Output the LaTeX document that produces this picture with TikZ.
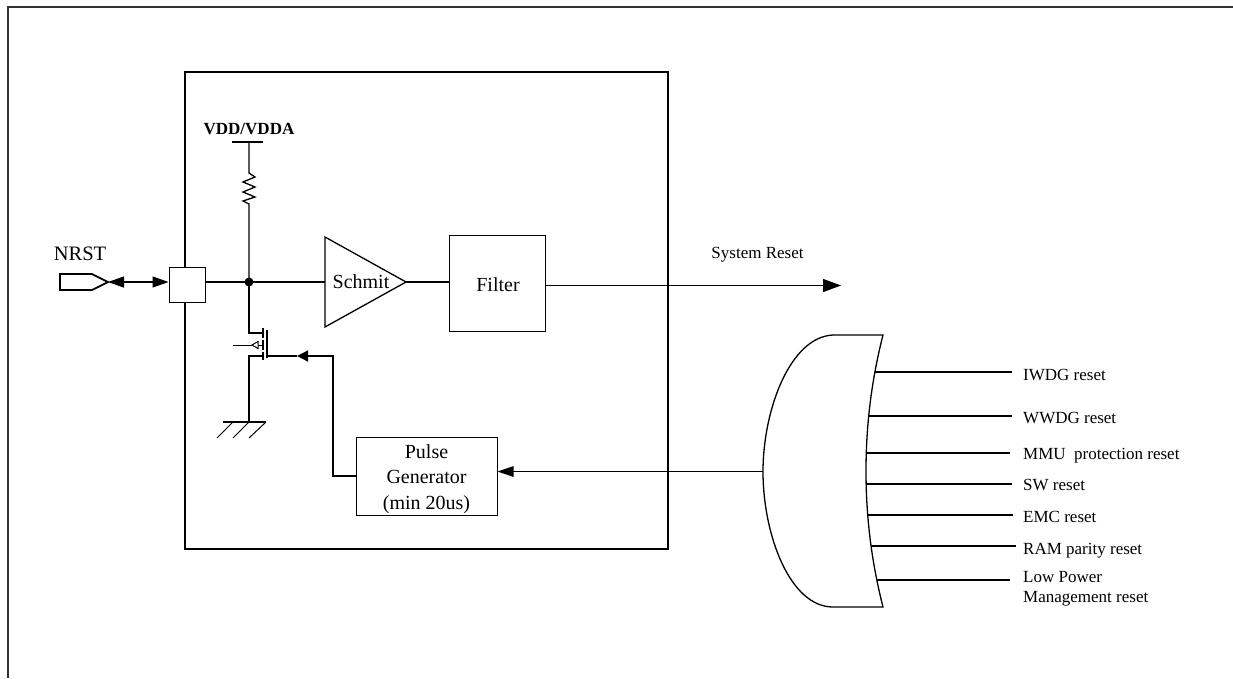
\documentclass[tikz,border=0pt]{standalone}
\usepackage{fontspec}
\setmainfont{Liberation Serif}
\usetikzlibrary{arrows.meta}
\tikzset{
  wire/.style={line width=1.3pt,black},
  big arrow/.style={-{Triangle[length=18pt,width=13pt]}},
  mid arrow/.style={-{Triangle[length=16pt,width=10.5pt]}},
  small arrow/.style={-{Triangle[length=11pt,width=11pt]}},
  box/.style={draw,line width=1pt,fill=white,inner sep=0pt,align=center,font=\fontsize{20}{25.5}\selectfont},
  lab/.style={anchor=base west,inner sep=0pt,font=\fontsize{17}{20}\selectfont},
  pt/.style={inner sep=0pt,minimum size=0pt,outer sep=0pt},
}
\begin{document}
\begin{tikzpicture}[x=1pt,y=-1pt]
\useasboundingbox (0,0) rectangle (1233,678);
\fill[white] (0,0) rectangle (1233,678);
% page frame
\draw[line width=1.2pt,black!80] (8,678) -- (8,7) -- (1233,7);
% main block
\node[draw,line width=2.2pt,minimum width=483pt,minimum height=477pt,inner sep=0pt] (chip) at (426.5,310.5) {};
% coordinates
\coordinate (pintip) at (108,282);
\coordinate (j) at (249,282);
\coordinate (vbar) at (249,142);
\coordinate (rtop) at (249,173);
\coordinate (rbot) at (249,204);
\coordinate (drain) at (249,333);
\coordinate (source) at (249,356);
\coordinate (gnd) at (249,422);
\coordinate (gate) at (267,356);
\coordinate (gbend) at (333,356);
\coordinate (pbend) at (333,476);
\coordinate (orin) at (763,471.5);
\coordinate (sysend) at (841,285.5);
% NRST pin
\draw[line width=1.8pt,fill=white] (60,274) -- (92,274) -- (pintip) -- (92,290) -- (60,290) -- cycle;
\node[pt,font=\fontsize{20.5}{24}\selectfont] (nrst) at (80,254) {NRST};
% pad
\node[box,minimum width=36pt,minimum height=35pt] (pad) at (187,284.5) {};
\draw[wire,{Triangle[length=16pt,width=11pt]}-{Triangle[length=16pt,width=11pt]}] (pintip) -- (pad.west |- pintip);
% boxes
\node[box,minimum width=96pt,minimum height=96pt] (filter) at (497,283) {\rule{0pt}{18pt}\hspace*{2pt}Filter};
\node[box,minimum width=141pt,minimum height=78pt] (pulse) at (426.5,476) {\rule{0pt}{20pt}Pulse\\Generator\\(min 20us)};
% Schmit
\draw[wire,fill=white] (325,237) -- (406,282) -- (325,327) -- cycle;
\node[pt,font=\fontsize{20}{24}\selectfont] (schmit) at (361,282) {Schmit};
\coordinate (sin) at (325,282);
\coordinate (sout) at (406,282);
% wires
\draw[wire] (pad.east |- j) -- (j) -- (sin);
\draw[wire] (sout) -- (filter.west |- sout);
\draw[wire,big arrow] (filter.east |- sysend) -- (sysend);
\node[pt,font=\fontsize{17}{20}\selectfont] (sysres) at (757.5,255) {System Reset};
% supply + resistor
\node[pt,font=\bfseries\fontsize{17}{20}\selectfont] (vdd) at (249,129) {VDD/VDDA};
\draw[wire] (232,142) -- (263,142);
\draw[wire] (vbar) -- (rtop) -- (255,177) -- (243,182) -- (255,187) -- (243,192) -- (255,197) -- (243,201) -- (rbot) -- (j);
\fill (j) circle (4.5pt);
% MOSFET
\draw[wire] (j) -- (drain) -- (263,333);
\draw[wire] (263,328) -- (263,338);
\draw[wire] (263,340) -- (263,350);
\draw[wire] (263,352) -- (263,360);
\draw[line width=1.6pt] (267,330) -- (267,358);
\draw[line width=1pt] (233,345) -- (252,345);
\draw[line width=1pt,fill=white] (252,345) -- (258,341.5) -- (258,348.5) -- cycle;
\draw[line width=1pt] (258,345) -- (263,345);
\draw[wire] (gnd) -- (source) -- (263,356);
% ground
\draw[wire] (223,422) -- (266,422);
\draw[line width=1pt] (266,422) -- (249,438);
\draw[line width=1pt] (249,422) -- (233,438);
\draw[line width=1pt] (233,422) -- (217,438);
% gate drive
\draw[wire,small arrow] (pulse.west |- pbend) -- (pbend) -- (gbend) -- (297,356);
\draw[wire] (297,356) -- (gate);
\draw[wire,mid arrow] (orin) -- (pulse.east |- orin);
% OR gate
\draw[wire,fill=white] (833,335) .. controls (790,337) and (763,410) .. (orin) .. controls (763,535) and (790,607) .. (833,607) -- (883,607) .. controls (871,560) and (866,515) .. (866,471) .. controls (866,427) and (871,382) .. (883,335) -- cycle;
% inputs
\node[lab] (l1) at (1023,380) {IWDG reset};
\node[lab] (l2) at (1023,423) {WWDG reset};
\node[lab] (l3) at (1023,459) {MMU\ \ protection reset};
\node[lab] (l4) at (1023,490) {SW reset};
\node[lab] (l5) at (1023,522) {EMC reset};
\node[lab] (l6) at (1023,554) {RAM parity reset};
\node[lab] (l7a) at (1023,582) {Low Power};
\node[lab] (l7b) at (1023,602) {Management reset};
\coordinate (e1) at (1012,372);\coordinate (e2) at (1012,416);\coordinate (e3) at (1010,453);
\coordinate (e4) at (1012,484);\coordinate (e5) at (1013,515);\coordinate (e6) at (1016,546);\coordinate (e7) at (1010,580);
\draw[wire] (875,372) -- (e1);
\draw[wire] (868,416) -- (e2);
\draw[wire] (866,453) -- (e3);
\draw[wire] (866,484) -- (e4);
\draw[wire] (868,515) -- (e5);
\draw[wire] (871,546) -- (e6);
\draw[wire] (877,580) -- (e7);
\end{tikzpicture}
\end{document}
